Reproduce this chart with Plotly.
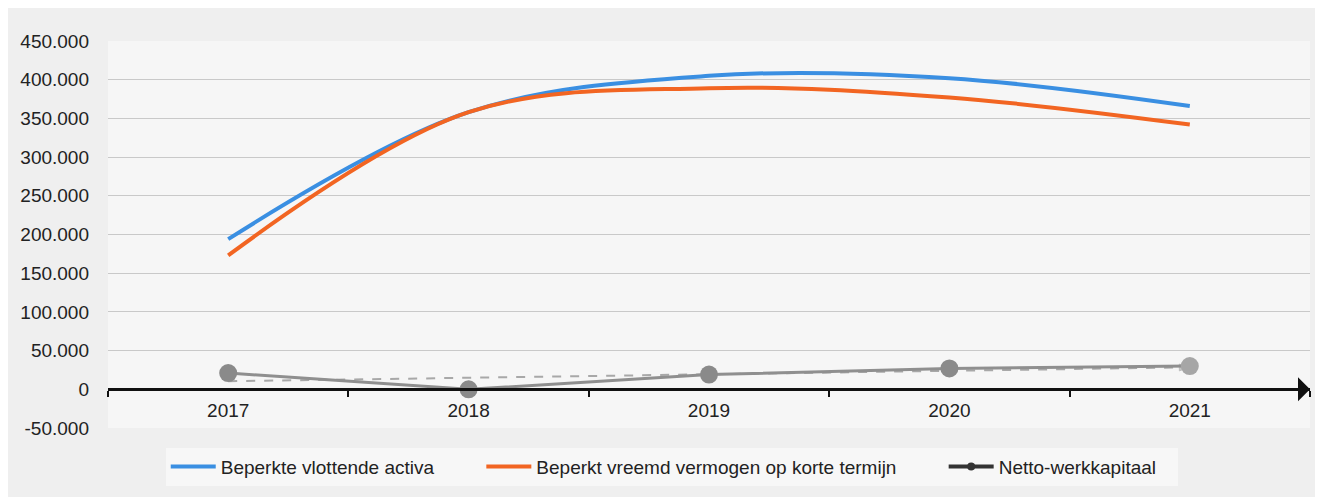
import numpy as np
import plotly.graph_objects as go

years = ["2017", "2018", "2019", "2020", "2021"]
vlottende_activa = [194000, 358000, 405000, 402000, 366000]
vreemd_vermogen_kt = [173000, 358000, 389000, 377000, 342000]
netto_werkkapitaal = [21000, 0, 19000, 27000, 30000]

y_tickvals = [-50000, 0, 50000, 100000, 150000, 200000, 250000, 300000, 350000, 400000, 450000]
y_ticktext = ["-50.000", "0", "50.000", "100.000", "150.000", "200.000", "250.000",
              "300.000", "350.000", "400.000", "450.000"]

NB = "\u00a0"
FONT = "Liberation Sans"
idx = np.arange(len(years))
slope, intercept = np.polyfit(idx, netto_werkkapitaal, 1)
trend = [intercept, slope * idx[-1] + intercept]

fig = go.Figure()

fig.add_trace(go.Scatter(
    x=years, y=vlottende_activa, mode="lines", name="Beperkte vlottende activa" + NB * 8,
    line=dict(color="#3a8fe2", width=4, shape="spline", smoothing=1.0)))
fig.add_trace(go.Scatter(
    x=years, y=vreemd_vermogen_kt, mode="lines",
    name="Beperkt vreemd vermogen op korte termijn" + NB * 8,
    line=dict(color="#f26522", width=4, shape="spline", smoothing=1.0)))

# trendline of netto-werkkapitaal (dashed, with arrow)
fig.add_trace(go.Scatter(
    x=[years[0], years[-1]], y=trend, mode="lines+markers", showlegend=False,
    line=dict(color="#a8a8a8", width=2, dash="dash"),
    marker=dict(symbol="arrow", angleref="previous", size=[0, 11], color="#b0b0b0")))

fig.add_trace(go.Scatter(
    x=years, y=netto_werkkapitaal, mode="lines+markers", showlegend=False,
    line=dict(color="#8f8f8f", width=3),
    marker=dict(size=18, color=["#8a8a8a", "#8a8a8a", "#8a8a8a", "#8a8a8a", "#a6a6a6"])))

# legend entry for netto-werkkapitaal
fig.add_trace(go.Scatter(
    x=[None], y=[None], mode="lines+markers", name="Netto-werkkapitaal" + NB * 3,
    line=dict(color="#333333", width=4), marker=dict(size=8, color="#333333")))

fig.update_layout(
    width=1315, height=489,
    margin=dict(l=100, r=13, t=33, b=69, autoexpand=False),
    paper_bgcolor="#efefef",
    plot_bgcolor="#f6f6f6",
    font=dict(family=FONT, size=19, color="#222222"),
    showlegend=True,
    legend=dict(orientation="h", x=0.469, xanchor="center", y=-0.1, yanchor="middle",
                font=dict(size=19, color="#222222"), bgcolor="#f7f7f7",
                itemwidth=45),
)

fig.update_yaxes(
    range=[-50000, 450000], tickvals=y_tickvals, ticktext=y_ticktext,
    showgrid=True, gridcolor="#c9c9c9", gridwidth=1, zeroline=False,
    showline=False, ticks="", ticklabelstandoff=18, automargin=False,
    tickfont=dict(size=19, color="#222222"))

fig.update_xaxes(
    range=[-0.5, 4.5], type="category", anchor="free", position=0.1,
    showline=True, linecolor="#111111", linewidth=2.5, automargin=False,
    showgrid=False, ticks="outside", tickson="boundaries", ticklen=6,
    tickcolor="#111111", tickwidth=2, ticklabelstandoff=3,
    tickfont=dict(size=19, color="#222222"))

fig.add_annotation(
    x=1.0, y=0, xref="paper", yref="y", ax=-40, ay=0, axref="pixel", ayref="pixel",
    text="", showarrow=True, arrowhead=1, arrowsize=1.6, arrowwidth=2.5,
    arrowcolor="#111111")

fig.write_html("out.html")
